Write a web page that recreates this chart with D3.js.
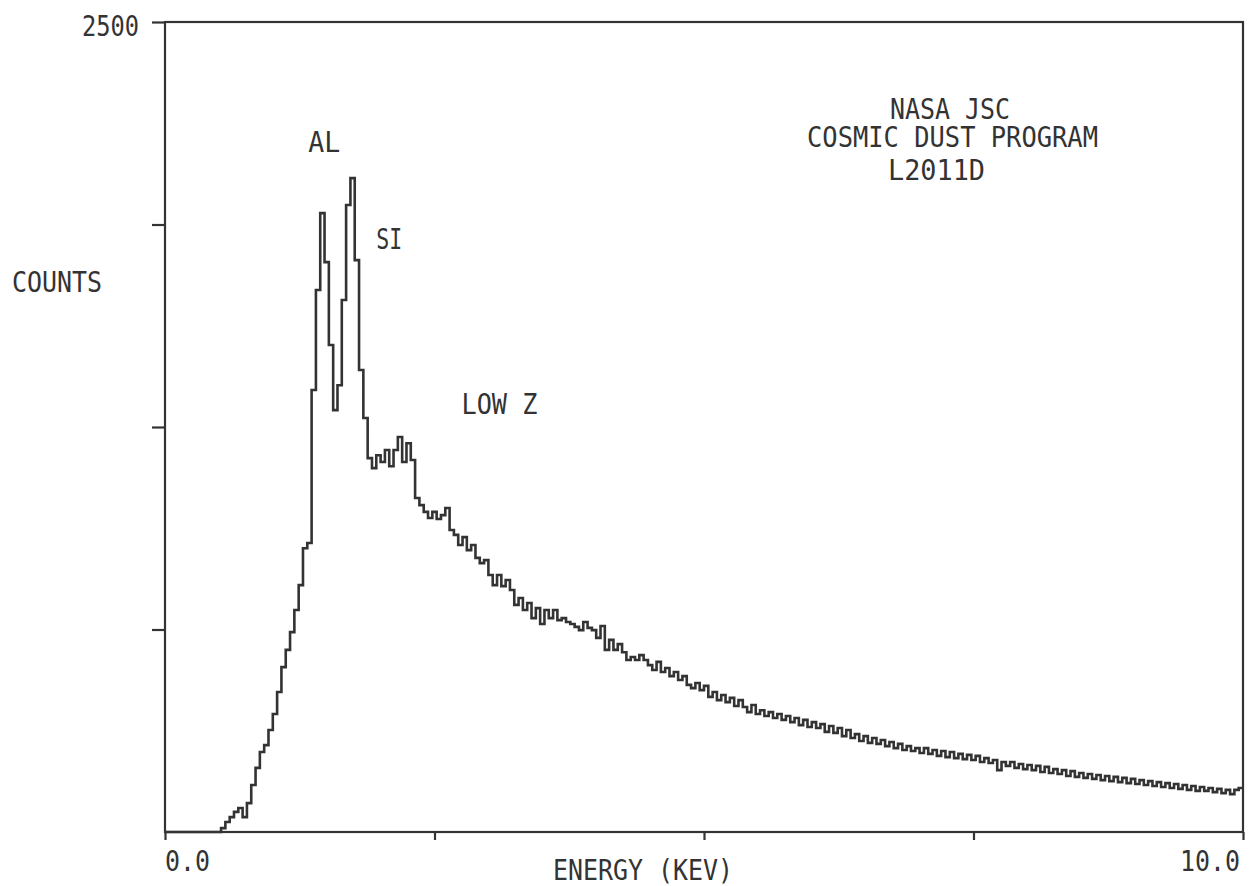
<!DOCTYPE html>
<html>
<head>
<meta charset="utf-8">
<script src="https://cdn.jsdelivr.net/npm/d3@7"></script>
<style>
  html, body { margin: 0; padding: 0; background: #fff; }
  svg { display: block; }
  text { font-family: "DejaVu Sans Mono", "Liberation Mono", monospace; fill: #333; }
</style>
</head>
<body>
<svg id="chart" width="1251" height="886"></svg>
<script>
// ---- data ----
const channelWidthKeV = 0.04;   // each channel spans 0.04 keV, 250 channels from 0 to 10 keV
const counts = [
  0,0,0,0,0,0,0,0,0,0,0,0,0,12,31,46,62,74,46,89,
  145,198,247,268,315,364,432,509,562,617,685,762,876,892,1364,1673,1910,1759,1503,1302,
  1379,1642,1935,2018,1765,1426,1278,1154,1123,1163,1142,1179,1129,1179,1219,1142,1200,1148,1031,1009,
  988,969,988,966,978,1000,932,917,886,910,870,886,846,830,839,793,762,793,759,778,
  747,701,722,685,707,660,691,642,685,660,685,654,660,648,642,633,623,648,630,623,
  599,636,562,593,562,580,555,531,540,531,546,531,515,500,525,494,506,481,494,469,
  481,454,444,460,438,451,417,432,407,423,401,414,389,407,386,370,392,364,376,358,
  370,352,364,346,358,339,352,330,346,324,339,321,333,309,327,306,321,296,315,290,
  302,281,296,275,290,272,284,265,278,259,272,253,265,250,259,244,259,241,253,235,
  250,231,247,228,241,225,238,222,235,216,228,213,222,191,216,204,216,198,210,194,
  207,191,204,185,201,182,194,179,191,173,188,170,182,167,179,164,176,160,173,157,
  170,154,167,151,164,148,160,145,157,142,154,139,151,136,148,133,145,130,142,127,
  139,127,136,123,133,120,130,117,130,136
];
const yTickValues = [625, 1250, 1875, 2500];
const yTickLabels = ["", "", "", "2500"];
const xTickValues = [0, 2.5, 5, 7.5, 10];
const xTickLabels = ["0.0", "", "", "", "10.0"];
const peakLabels = ["AL", "SI", "LOW Z"];
const peakLabelEnergy = [1.33, 1.96, 2.75];
const peakLabelCounts = [2100, 1800, 1290];
const titleLines = ["NASA JSC", "COSMIC DUST PROGRAM", "L2011D"];
const xAxisTitle = "ENERGY (KEV)";
const yAxisTitle = "COUNTS";

// ---- layout ----
const ink = "#333";
const svg = d3.select("#chart");
const plotLeft = 165, plotRight = 1243, plotTop = 22, plotBottom = 832;
const x = d3.scaleLinear().domain([0, 10]).range([plotLeft, plotRight]);
const y = d3.scaleLinear().domain([0, 2500]).range([plotBottom, plotTop]);

// frame
svg.append("rect")
  .attr("x", plotLeft).attr("y", plotTop)
  .attr("width", plotRight - plotLeft).attr("height", plotBottom - plotTop)
  .attr("fill", "none").attr("stroke", ink).attr("stroke-width", 2.2);

// y ticks (outward, left)
const yAxis = d3.axisLeft(y).tickValues(yTickValues).tickSize(13).tickFormat(() => "");
const gy = svg.append("g").attr("transform", `translate(${plotLeft},0)`).call(yAxis);
gy.select(".domain").remove();
gy.selectAll(".tick line").attr("stroke", ink).attr("stroke-width", 2.2);

// x ticks (outward, down)
const xAxis = d3.axisBottom(x).tickValues(xTickValues).tickSize(8).tickFormat(() => "");
const gx = svg.append("g").attr("transform", `translate(0,${plotBottom})`).call(xAxis);
gx.select(".domain").remove();
gx.selectAll(".tick line").attr("stroke", ink).attr("stroke-width", 2.2);

function label(txt, px, py, width, anchor) {
  return svg.append("text")
    .attr("x", px).attr("y", py)
    .attr("font-size", 29)
    .attr("text-anchor", anchor || "start")
    .attr("textLength", width)
    .attr("lengthAdjust", "spacingAndGlyphs")
    .text(txt);
}

// y tick label
yTickValues.forEach((v, i) => {
  if (yTickLabels[i]) label(yTickLabels[i], 82, y(v) + 14, 57);
});
// x tick labels
xTickValues.forEach((v, i) => {
  if (!xTickLabels[i]) return;
  const w = xTickLabels[i].length * 15;
  const px = i === 0 ? x(v) : x(v) - w - 3;
  label(xTickLabels[i], px, 871, w);
});

// axis titles
label(yAxisTitle, 12, 292, 90);
label(xAxisTitle, 553, 880, 180);

// title block
label(titleLines[0], 890, 119, 120);
label(titleLines[1], 807, 147, 291);
label(titleLines[2], 888, 180, 97);

// peak labels
const peakWidths = [32, 26, 76];
peakLabels.forEach((t, i) => {
  label(t, x(peakLabelEnergy[i]), y(peakLabelCounts[i]), peakWidths[i]);
});

// spectrum as a step histogram
const pts = counts.map((c, i) => [i * channelWidthKeV, c]);
pts.push([counts.length * channelWidthKeV, counts[counts.length - 1]]);
const line = d3.line()
  .x(d => x(d[0]))
  .y(d => y(d[1]))
  .curve(d3.curveStepAfter);
svg.append("path")
  .datum(pts)
  .attr("d", line)
  .attr("fill", "none")
  .attr("stroke", ink)
  .attr("stroke-width", 2.6)
  .attr("stroke-linejoin", "miter");
</script>
</body>
</html>
